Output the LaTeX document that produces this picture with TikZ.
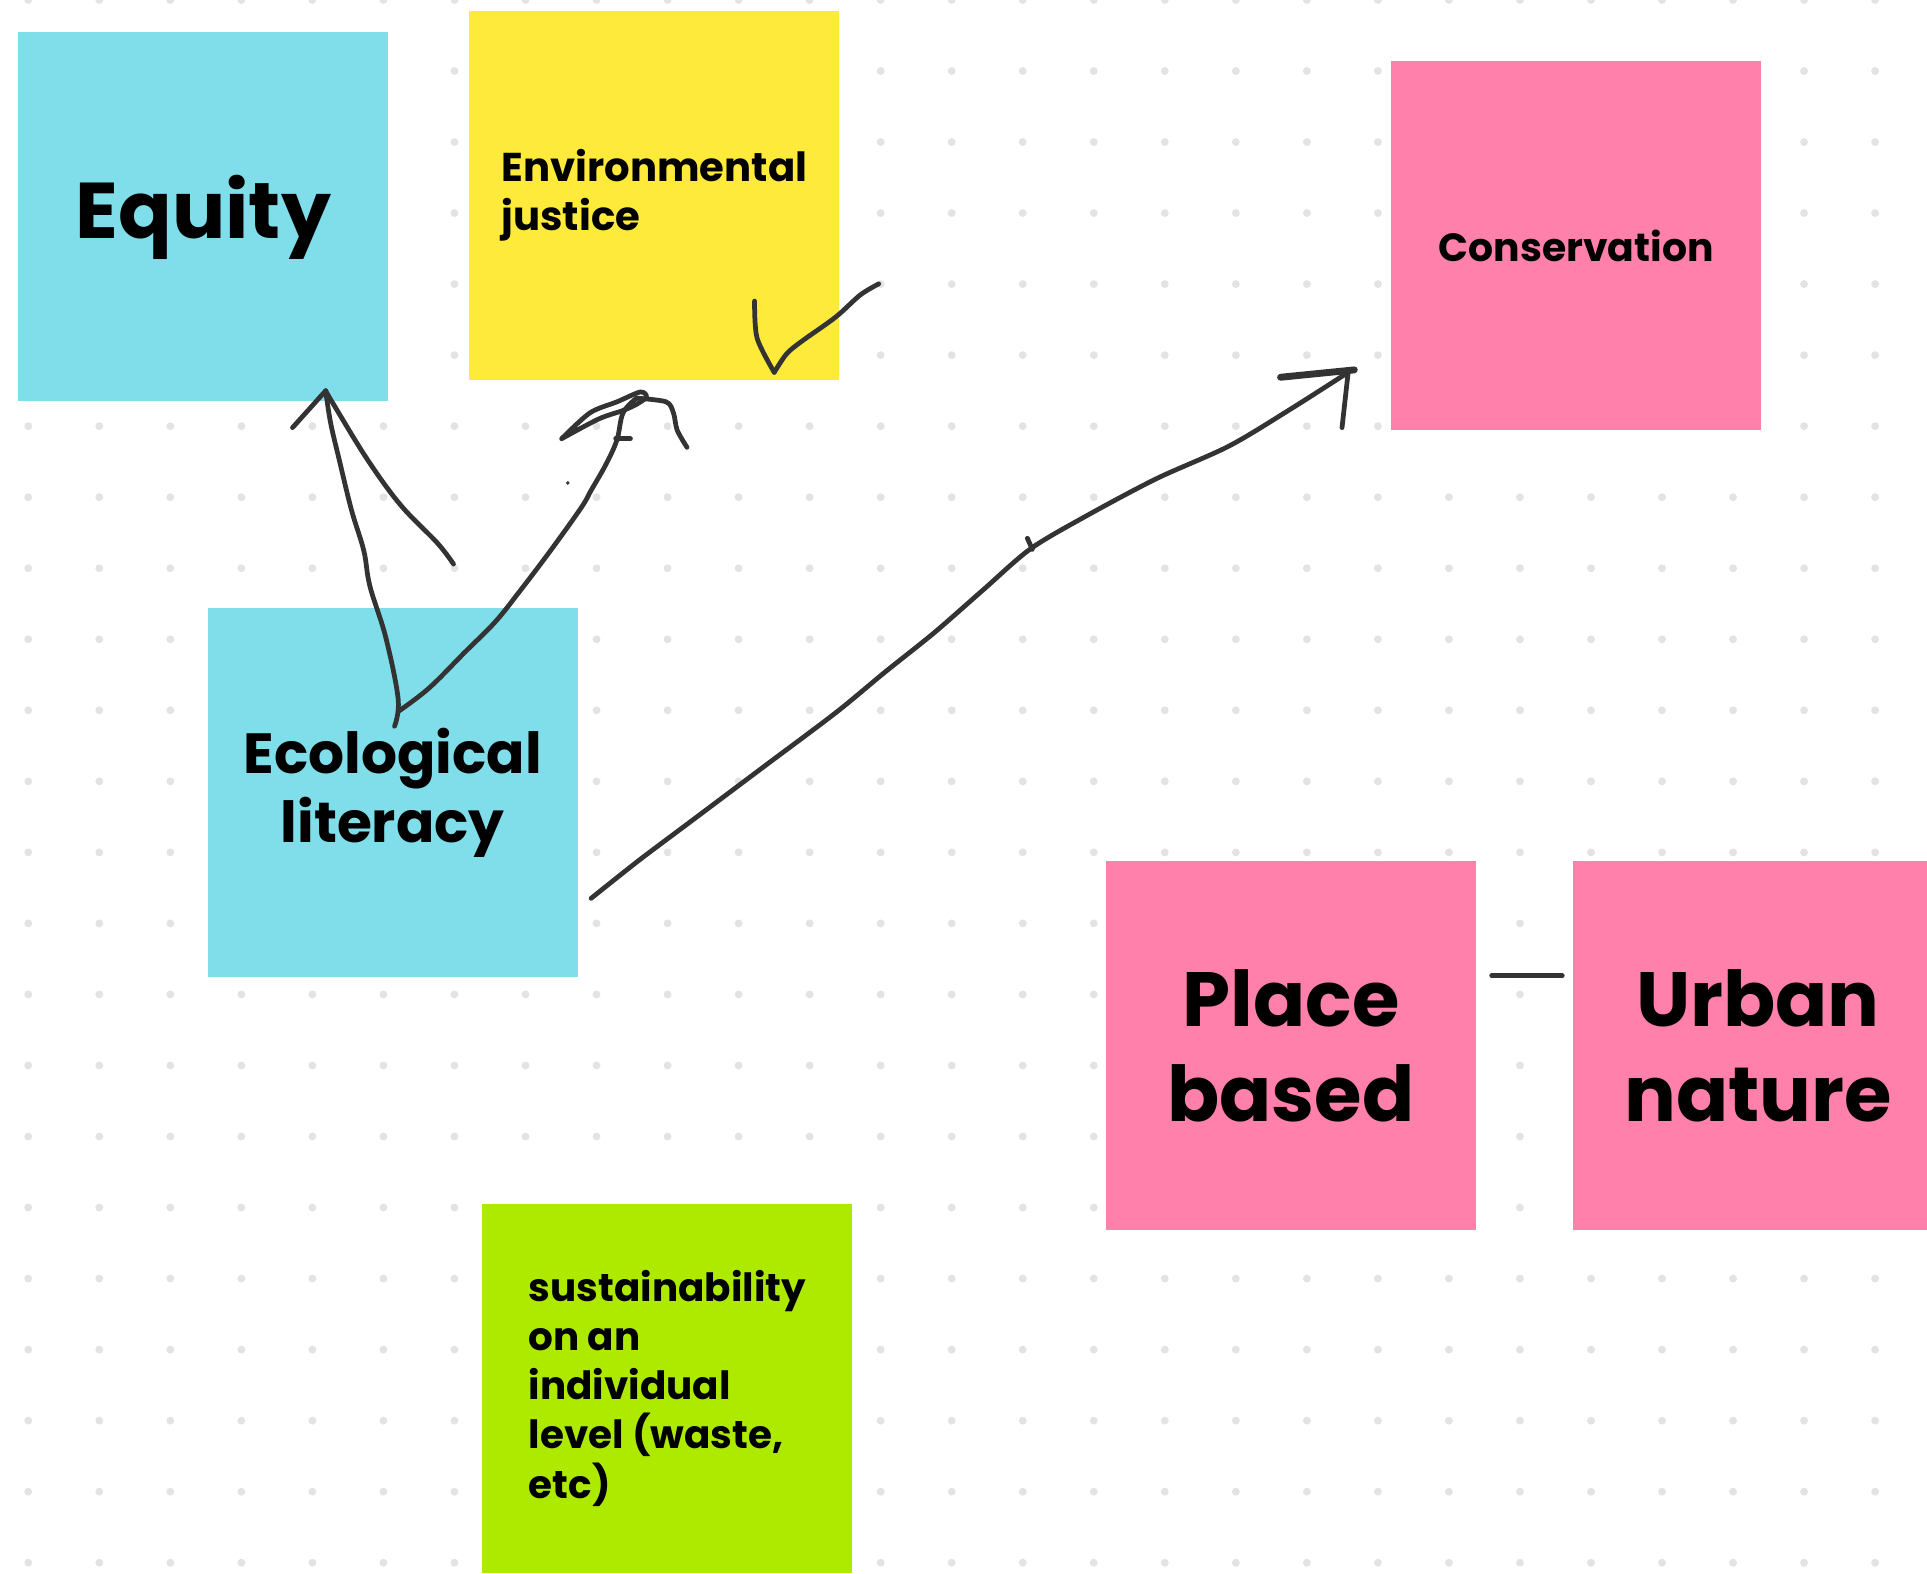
\documentclass[tikz,border=0pt]{standalone}
\usepackage{fontspec}
\setmainfont{Poppins}
\usetikzlibrary{calc}
\definecolor{stickycyan}{HTML}{80DEEA}
\definecolor{stickyyellow}{HTML}{FEEA3B}
\definecolor{stickypink}{HTML}{FF80AB}
\definecolor{stickygreen}{HTML}{AEEA00}
\definecolor{griddot}{HTML}{E3E3E3}
\definecolor{penink}{HTML}{333333}
\tikzset{
  sticky/.style={rectangle, draw=none, inner sep=0pt, minimum width=3.01cm, minimum height=3.0cm, text=black},
  pen/.style={draw=penink, line width=1.1pt, line cap=round, line join=round},
  gdot/.style={fill=griddot, draw=none},
}
\begin{document}
\begin{tikzpicture}[x=0.01cm, y=-0.01cm]
\useasboundingbox (0,0) rectangle (1568,1280);
\fill[white] (0,0) rectangle (1568,1280);
% dot grid
\foreach \i in {0,...,26}{
  \foreach \j in {0,...,22}{
    \fill[gdot] ({23+57.8*\i},{57.8*\j}) circle (3.2);
  }
}
% sticky notes
\node[sticky, fill=stickycyan, font=\fontsize{18.3}{22}\selectfont\bfseries] (equity) at (165.5,176.5) {Equity};
\node[sticky, fill=stickyyellow, align=left, font=\fontsize{9.3}{11.4}\selectfont\bfseries] (envjustice) at (532.5,159) {\raisebox{-2pt}{Environmental}\\\raisebox{-2pt}{justice}};
\node[sticky, fill=stickypink, font=\fontsize{9.1}{11}\selectfont\bfseries] (conservation) at (1282.5,200) {Conservation};
\node[sticky, fill=stickycyan, align=center, font=\fontsize{13.1}{16}\selectfont\bfseries] (ecolit) at (319.5,645) {Ecological\\literacy};
\node[sticky, fill=stickypink, align=center, font=\fontsize{17.8}{22.2}\selectfont\bfseries] (place) at (1050.5,851) {Place\\based};
\node[sticky, fill=stickypink, align=center, font=\fontsize{17.8}{22.2}\selectfont\bfseries] (urban) at (1430.5,851) {Urban\\nature};
\node[sticky, fill=stickygreen, align=left, font=\fontsize{9.0}{11.4}\selectfont\bfseries] (sustain) at (543,1129.5) {sustainability\\on an\\individual\\level (waste,\\etc)};
% named end points of the hand-drawn strokes
\coordinate (eqtip) at (265,318);
\coordinate (ejtip) at (518,324);
\coordinate (constip) at (1097,303);
% Ecological literacy -> Equity
\draw[pen] plot[smooth, tension=0.6] coordinates {(321,591) (324,569) (314,519) (301,477) (296,448) (286,415) (276,374) (269,344) (eqtip)};
\draw[pen] (238,348) -- (eqtip);
\draw[pen] plot[smooth, tension=0.6] coordinates {(eqtip) (272,330) (299,374) (326,411) (356,442) (369,459)};
% Ecological literacy -> Environmental justice
\draw[pen] plot[smooth, tension=0.6] coordinates {(324,579) (349,560) (378,531) (403,506) (423,481) (448,448) (473,413) (481,399) (493,378) (502,358) (507,336) (ejtip)};
\draw[pen] plot[smooth, tension=0.5] coordinates {(457,357) (480,336) (502,327) (521,319) (526,323) (518,329) (507,334) (487,341) (457,357)};
\draw[pen] plot[smooth, tension=0.5] coordinates {(ejtip) (542,327) (548,336) (551,350) (559,364)};
\draw[pen] (501,357) -- (513,357);
\fill[penink] (462,393) circle (1.6);
% check mark
\draw[pen] plot[smooth, tension=0.5] coordinates {(614,245) (616,275) (630,303)};
\draw[pen] plot[smooth, tension=0.5] coordinates {(630,303) (640,288) (652,278) (680,258) (700,240) (715,231)};
% Ecological literacy -> Conservation
\draw[pen] plot[smooth, tension=0.5] coordinates {(481,731) (520,700) (560,670) (620,625) (680,580) (720,547) (760,515) (800,480) (838,447) (880,422) (940,390) (1000,363) (1050,333) (constip)};
\draw[pen] (836,438) -- (840,447);
\draw[pen, line width=1.6pt] (1042,307) -- (1102,301);
\draw[pen] (constip) -- (1092,348);
% Place based -- Urban nature
\draw[pen] ($(place.east)+(12,-57)$) -- ($(urban.west)+(-8,-57)$);
\end{tikzpicture}
\end{document}
